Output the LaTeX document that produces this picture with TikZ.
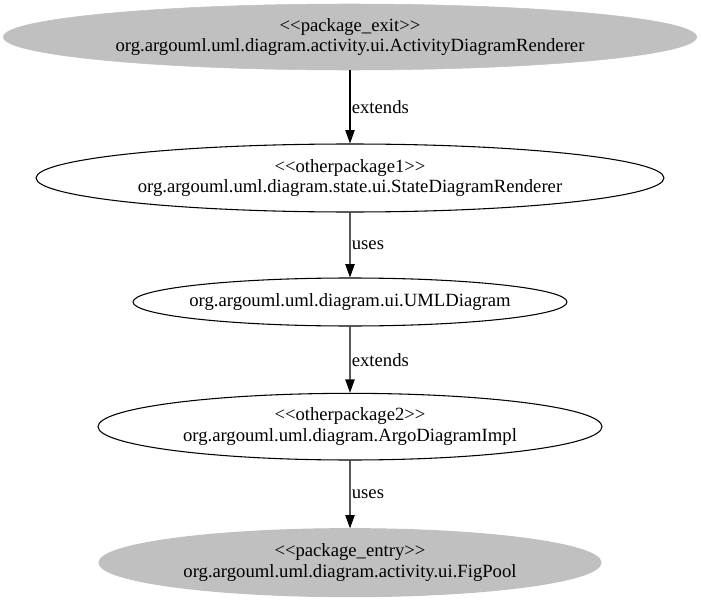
\documentclass[tikz,border=0pt]{standalone}
\usepackage{fontspec}
\setmainfont{Liberation Serif}
\usetikzlibrary{shapes.geometric,arrows.meta}
\definecolor{pkggray}{RGB}{192,192,192}

\tikzset{
    pkg node/.style={ellipse,draw,fill=pkggray,draw=pkggray,align=center,inner sep=0},
    plain node/.style={ellipse,draw,align=center,inner sep=0,line width=0.8pt},
    rel/.style={font=\fontsize{14}{16}\selectfont,inner sep=1pt},
    thin/.style={line width=0.8pt}
    }

\begin{document}
\begin{tikzpicture}[x=0.75pt,y=0.75pt,font=\fontsize{14}{15.5}\selectfont,
    edge from parent/.style={draw,thin,-{Triangle[length=10pt,width=7pt]}},
    level 1/.style={level distance=105.75pt},
    level 2/.style={level distance=93pt},
    level 3/.style={level distance=93.5pt},
    level 4/.style={level distance=102pt}]
                \useasboundingbox (0,0) rectangle (701,-603);
                \node(exit)[pkg node, minimum width=520pt, minimum height=49.5pt] at (350,-37)
                    {{<}{<}package\_exit{>}{>}\\org.argouml.uml.diagram.activity.ui.ActivityDiagramRenderer}
                child{node(state)[plain node, minimum width=471pt, minimum height=51pt]
                    {{<}{<}otherpackage1{>}{>}\\org.argouml.uml.diagram.state.ui.StateDiagramRenderer}
                    child{node(uml)[plain node, inner xsep=-6pt, minimum width=325.5pt, minimum height=36pt]
                        {org.argouml.uml.diagram.ui.UMLDiagram}
                        child{node(argo)[plain node, minimum width=378pt, minimum height=50pt]
                            {{<}{<}otherpackage2{>}{>}\\org.argouml.uml.diagram.ArgoDiagramImpl}
                            child{node(entry)[pkg node, minimum width=376.5pt, minimum height=51pt]
                                {{<}{<}package\_entry{>}{>}\\org.argouml.uml.diagram.activity.ui.FigPool}
                                edge from parent node[right,rel]{uses}
                            }
                            edge from parent node[right,rel]{extends}
                        }
                        edge from parent node[right,rel]{uses}
                    }
                    edge from parent node[right,rel]{extends}
                };
            \end{tikzpicture}
\end{document}
